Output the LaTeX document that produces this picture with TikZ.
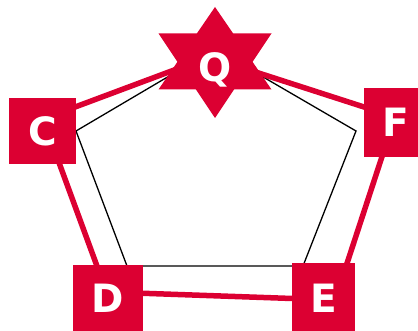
\documentclass[tikz,border=0pt]{standalone}
\usepackage{fontspec}
\setsansfont{DejaVu Sans}
\usetikzlibrary{calc}
\definecolor{markred}{HTML}{DC0032}
\tikzset{
  lettertext/.style={text=white,inner sep=0pt,font=\sffamily\bfseries\fontsize{39}{39}\selectfont},
  letterbox/.style={lettertext,fill=markred},
  outlineedge/.style={draw=black,line width=1.3pt},
  matchedge/.style={draw=markred,line width=5.5pt}
}

\begin{document}
\begin{tikzpicture}[x=1pt,y=-1pt]
  \useasboundingbox (0,0) rectangle (418,331);
  \coordinate (p1) at (215,49);
  \coordinate (p2) at (356,131);
  \coordinate (p3) at (303,266);
  \coordinate (p4) at (127,266);
  \coordinate (p5) at (76,131);
  \draw[outlineedge] (p1)--(p2)--(p3)--(p4)--(p5)--cycle;
  \coordinate (q) at (209,57);
  \coordinate (f) at (395,117);
  \coordinate (e) at (335,300);
  \coordinate (d) at (106.5,292);
  \coordinate (c) at (43,119);
  \draw[matchedge] (q)--(f)--(e)--(d)--(c)--cycle;
  \coordinate (s) at (215,62.5);
  \fill[markred] ($(s)+(0,-55.5)$) -- ($(s)+(56.5,27)$) -- ($(s)+(-56.5,27)$) -- cycle;
  \fill[markred] ($(s)+(0,55.5)$) -- ($(s)+(56.5,-29)$) -- ($(s)+(-56.5,-29)$) -- cycle;
  \node[lettertext,anchor=base] (Q) at (215,81.7) {Q};
  \node[letterbox,minimum width=67pt,minimum height=66pt] (C) at (42.5,131) {C};
  \node[letterbox,minimum width=70pt,minimum height=67pt] (D) at (108,298.5) {D};
  \node[letterbox,minimum width=63pt,minimum height=71pt] (E) at (323.5,298.5) {E};
  \node[letterbox,minimum width=63pt,minimum height=69pt] (F) at (395.5,122.5) {F};
\end{tikzpicture}
\end{document}
